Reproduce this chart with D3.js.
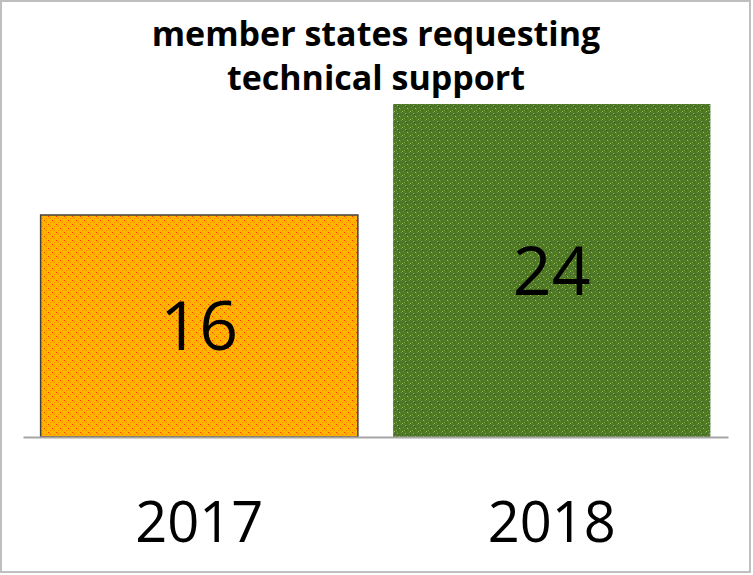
<!DOCTYPE html>
<html><head><meta charset="utf-8">
<script src="https://cdn.jsdelivr.net/npm/d3@7"></script>
<style>html,body{margin:0;padding:0;background:#fff;}</style>
</head><body>
<script>
const categories = ["2017", "2018"];
const values = [16, 24];
const titleLines = ["member states requesting", "technical support"];

const W = 753, H = 575;
const svg = d3.select("body").append("svg").attr("width", W).attr("height", H);
const defs = svg.append("defs");

// orange dotted pattern
const p1 = defs.append("pattern").attr("id","pOrange").attr("patternUnits","userSpaceOnUse").attr("width",8).attr("height",8);
p1.append("rect").attr("width",8).attr("height",8).attr("fill","#FFB400");
[[0,0],[4,4]].forEach(([x,y])=>p1.append("rect").attr("x",x+1).attr("y",y+1).attr("width",2).attr("height",2).attr("fill","#FF9A00"));
[[0,0],[4,4]].forEach(([x,y])=>p1.append("rect").attr("x",x).attr("y",y).attr("width",1).attr("height",1).attr("fill","#FF2A00"));
[[4,0],[0,4]].forEach(([x,y])=>p1.append("rect").attr("x",x+2).attr("y",y+2).attr("width",1).attr("height",1).attr("fill","#FF8000"));

// green speckle pattern
const p2 = defs.append("pattern").attr("id","pGreen").attr("patternUnits","userSpaceOnUse").attr("width",8).attr("height",8);
p2.append("rect").attr("width",8).attr("height",8).attr("fill","#4E7726");
[[1,0,"#6E9A35"],[5,1,"#8FBF45"],[3,3,"#6A9232"],[7,4,"#9CCB4A"],[0,5,"#628A30"],[4,6,"#7FAE3C"],[2,7,"#9CCB4A"],[6,2,"#3E6420"],[2,2,"#42681F"],[6,6,"#3F6520"]]
  .forEach(([x,y,c])=>p2.append("rect").attr("x",x).attr("y",y).attr("width",1).attr("height",1).attr("fill",c));

const fills = ["url(#pOrange)", "url(#pGreen)"];

// outer border
svg.append("rect").attr("x",1).attr("y",1).attr("width",W-4).attr("height",H-4)
  .attr("fill","#fff").attr("stroke","#BFBFBF").attr("stroke-width",2);

const x = d3.scaleBand().domain(categories).range([23, 728]).paddingInner(0.1).paddingOuter(0.05);
const y = d3.scaleLinear().domain([0, 24]).range([437, 104]);

svg.selectAll("rect.bar").data(values).enter().append("rect")
  .attr("class","bar")
  .attr("x",(d,i)=>x(categories[i]))
  .attr("y",d=>y(d))
  .attr("width",x.bandwidth())
  .attr("height",d=>y(0)-y(d))
  .attr("fill",(d,i)=>fills[i])
  .attr("stroke",(d,i)=>i===0?"#404040":"none")
  .attr("stroke-width",1.5);

// baseline
const axis = d3.axisBottom(x).tickSize(0).tickFormat("");
const gA = svg.append("g").attr("transform",`translate(0,${y(0)})`).call(axis);
gA.select(".domain").attr("stroke","#A6A6A6").attr("stroke-width",2);

// value labels
svg.selectAll("text.val").data(values).enter().append("text")
  .attr("class","val")
  .attr("x",(d,i)=>x(categories[i])+x.bandwidth()/2)
  .attr("y",d=>(y(d)+y(0))/2)
  .attr("dy","0.36em")
  .attr("text-anchor","middle")
  .attr("font-family","'Open Sans', sans-serif")
  .attr("font-size",68)
  .attr("fill","#000")
  .text(d=>d);

// category labels
svg.selectAll("text.cat").data(categories).enter().append("text")
  .attr("class","cat")
  .attr("x",d=>x(d)+x.bandwidth()/2)
  .attr("y",542)
  .attr("text-anchor","middle")
  .attr("font-family","'Open Sans', sans-serif")
  .attr("font-size",56)
  .attr("fill","#000")
  .text(d=>d);

// title
svg.selectAll("text.title").data(titleLines).enter().append("text")
  .attr("class","title")
  .attr("x",376)
  .attr("y",(d,i)=>46+i*44)
  .attr("text-anchor","middle")
  .attr("font-family","'Open Sans', sans-serif")
  .attr("font-weight","bold")
  .attr("font-size",34)
  .attr("fill","#000")
  .text(d=>d);
</script>
</body></html>
